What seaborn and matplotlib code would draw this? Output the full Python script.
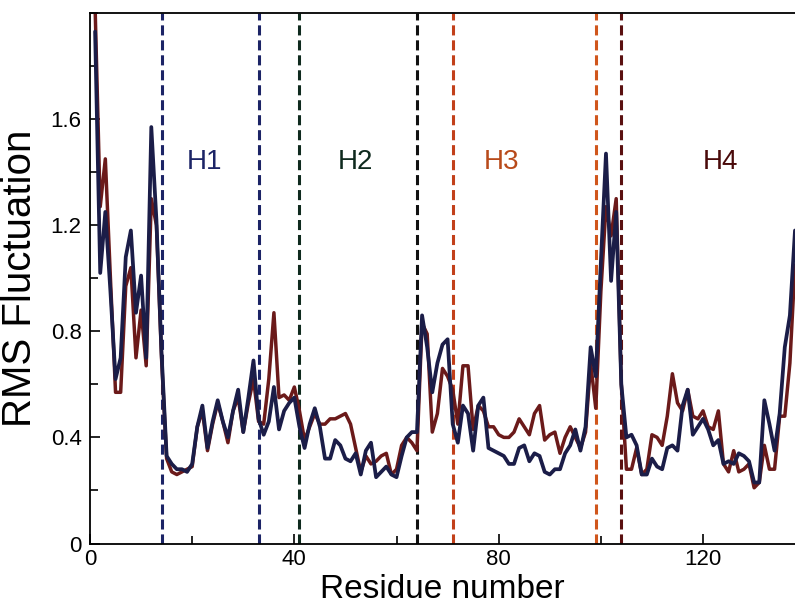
import numpy as np
import pandas as pd
import matplotlib
matplotlib.use("Agg")
import matplotlib.pyplot as plt
from matplotlib.ticker import MultipleLocator, FixedLocator
import seaborn as sns

# RMS fluctuation per residue, two simulations
residues = list(range(1, 139))
rmsf_blue = [
    1.93, 1.02, 1.25, 0.95, 0.62, 0.70, 1.08, 1.18, 0.87, 1.01,
    0.70, 1.57, 1.22, 0.72, 0.33, 0.30, 0.28, 0.28, 0.27, 0.30,
    0.44, 0.52, 0.36, 0.46, 0.54, 0.46, 0.40, 0.50, 0.58, 0.42,
    0.55, 0.69, 0.47, 0.41, 0.46, 0.59, 0.43, 0.50, 0.53, 0.55,
    0.44, 0.36, 0.45, 0.51, 0.44, 0.32, 0.32, 0.39, 0.37, 0.32,
    0.31, 0.34, 0.26, 0.35, 0.38, 0.25, 0.27, 0.29, 0.26, 0.25,
    0.33, 0.40, 0.42, 0.42, 0.86, 0.74, 0.57, 0.68, 0.75, 0.77,
    0.45, 0.38, 0.52, 0.49, 0.35, 0.52, 0.55, 0.36, 0.35, 0.34,
    0.33, 0.30, 0.30, 0.36, 0.37, 0.31, 0.34, 0.33, 0.27, 0.26,
    0.28, 0.28, 0.34, 0.37, 0.43, 0.35, 0.44, 0.74, 0.63, 1.06,
    1.47, 0.99, 1.25, 0.60, 0.40, 0.41, 0.37, 0.26, 0.26, 0.32,
    0.29, 0.28, 0.36, 0.37, 0.35, 0.52, 0.58, 0.41, 0.44, 0.47,
    0.43, 0.37, 0.39, 0.30, 0.31, 0.30, 0.34, 0.33, 0.31, 0.23,
    0.23, 0.54, 0.45, 0.35, 0.49, 0.74, 0.86, 1.18,
]
rmsf_red = [
    2.02, 1.27, 1.45, 1.00, 0.57, 0.57, 0.97, 1.04, 0.70, 0.88,
    0.67, 1.30, 1.20, 0.70, 0.32, 0.27, 0.26, 0.27, 0.28, 0.29,
    0.44, 0.50, 0.35, 0.45, 0.53, 0.46, 0.38, 0.50, 0.55, 0.42,
    0.53, 0.62, 0.46, 0.45, 0.62, 0.87, 0.55, 0.56, 0.54, 0.59,
    0.50, 0.39, 0.44, 0.49, 0.45, 0.45, 0.47, 0.47, 0.48, 0.49,
    0.45, 0.36, 0.27, 0.33, 0.30, 0.31, 0.33, 0.34, 0.26, 0.28,
    0.37, 0.40, 0.38, 0.35, 0.83, 0.79, 0.42, 0.49, 0.66, 0.63,
    0.58, 0.45, 0.67, 0.67, 0.43, 0.52, 0.50, 0.44, 0.44, 0.41,
    0.40, 0.40, 0.42, 0.47, 0.44, 0.41, 0.49, 0.52, 0.39, 0.41,
    0.42, 0.34, 0.40, 0.44, 0.40, 0.36, 0.42, 0.68, 0.51, 0.95,
    1.27, 1.16, 1.30, 0.60, 0.28, 0.28, 0.36, 0.26, 0.28, 0.41,
    0.40, 0.37, 0.48, 0.64, 0.53, 0.50, 0.58, 0.48, 0.47, 0.50,
    0.44, 0.43, 0.50, 0.30, 0.27, 0.35, 0.27, 0.28, 0.30, 0.21,
    0.23, 0.37, 0.28, 0.28, 0.48, 0.48, 0.68, 1.05,
]

# helix boundaries and labels
boundaries = [14, 33, 41, 64, 71, 99, 104]
boundary_colors = ["#1c2466", "#1c2466", "#0f2a1e", "#111111", "#c2401a", "#d0561c", "#5a1010"]
helix_names = ["H1", "H2", "H3", "H4"]
helix_x = [22.5, 52, 80.5, 123.5]
helix_colors = ["#1c2466", "#0f2a1e", "#b84a1a", "#4a0a0a"]

df = pd.DataFrame({"residue": residues, "blue": rmsf_blue, "red": rmsf_red})

sns.set_theme(style="ticks")
plt.rcParams["font.family"] = ["Liberation Sans", "DejaVu Sans"]

fig = plt.figure(figsize=(7.95, 6.04), dpi=100)
ax = fig.add_axes([90 / 795, 60.5 / 604, 1 - 90 / 795, 530.5 / 604])

for xb, c in zip(boundaries, boundary_colors):
    ax.axvline(xb, color=c, lw=2.2, ls=(0, (3.3, 1.6)), zorder=1)

sns.lineplot(data=df, x="residue", y="red", color="#6b1a1a", lw=2.5, ax=ax, zorder=2)
sns.lineplot(data=df, x="residue", y="blue", color="#1b1d48", lw=2.7, ax=ax, zorder=3)

for name, hx, c in zip(helix_names, helix_x, helix_colors):
    ax.text(hx, 1.44, name, color=c, fontsize=20, ha="center", va="center")

ax.set_xlim(0, 138)
ax.set_ylim(0, 2.0)
ax.xaxis.set_major_locator(FixedLocator([0, 40, 80, 120]))
ax.xaxis.set_minor_locator(MultipleLocator(20))
ax.yaxis.set_major_locator(FixedLocator([0, 0.4, 0.8, 1.2, 1.6]))
ax.yaxis.set_minor_locator(MultipleLocator(0.2))
ax.set_yticklabels(["0", "0.4", "0.8", "1.2", "1.6"])
ax.tick_params(which="both", direction="in", labelsize=16, color="black",
               labelcolor="black", width=1.2)
ax.tick_params(which="major", length=7)
ax.tick_params(which="minor", length=6)
ax.tick_params(axis="x", pad=4)
ax.tick_params(axis="y", pad=6)

ax.spines["right"].set_visible(False)
for s in ["left", "bottom", "top"]:
    ax.spines[s].set_color("black")
    ax.spines[s].set_linewidth(1.3)

ax.set_xlabel("Residue number", fontsize=24, color="black")
ax.set_ylabel("RMS Fluctuation", fontsize=29, color="black")
ax.xaxis.set_label_coords(0.5, -0.057)
ax.yaxis.set_label_coords(-0.072, 0.5)

fig.savefig("out.png", dpi=100)
